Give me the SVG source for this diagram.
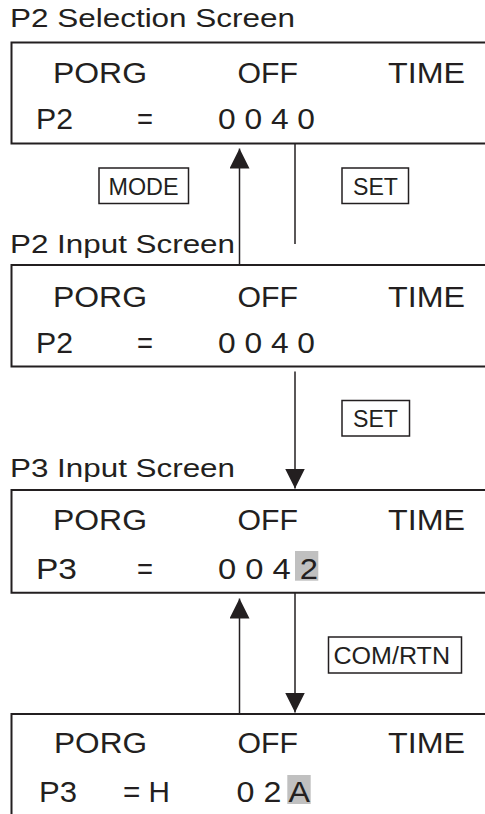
<svg xmlns="http://www.w3.org/2000/svg" width="485" height="814" viewBox="0 0 485 814">
  <style>
    .bg { fill: #ffffff; }
    .frame { fill: none; stroke: #231f20; stroke-width: 2; }
    .lbl { fill: none; stroke: #231f20; stroke-width: 1.5; }
    .conn { fill: none; stroke: #231f20; stroke-width: 1.5; }
    .title { font-family: "Liberation Sans", Arial, sans-serif; font-size: 26px; fill: #231f20; }
    .t { font-family: "Liberation Sans", Arial, sans-serif; font-size: 29px; fill: #231f20; }
    .k { font-family: "Liberation Sans", Arial, sans-serif; font-size: 23px; fill: #231f20; }
    .hl { fill: #c0c0c0; }
  </style>
  <defs>
    <marker id="arrow" markerUnits="userSpaceOnUse" markerWidth="20" markerHeight="20" viewBox="0 0 19 19" refX="19" refY="9.5" orient="auto">
      <path d="M0,0 L19,9.5 L0,19 Z" fill="#231f20"/>
    </marker>
  </defs>
  <rect class="bg" x="0" y="0" width="485" height="814"/>

  <g id="screen1">
    <text class="title" x="10" y="26.7" textLength="285" lengthAdjust="spacingAndGlyphs">P2 Selection Screen</text>
    <path class="frame" d="M487,42.5 H11.5 V143.5 H487"/>
    <text class="t" x="53" y="82.5" textLength="94" lengthAdjust="spacingAndGlyphs">PORG</text>
    <text class="t" x="237.5" y="82.5" textLength="60.5" lengthAdjust="spacingAndGlyphs">OFF</text>
    <text class="t" x="388" y="82.5" textLength="77" lengthAdjust="spacingAndGlyphs">TIME</text>
    <text class="t" x="36" y="129" textLength="37" lengthAdjust="spacingAndGlyphs">P2</text>
    <text class="t" x="137" y="129" textLength="16" lengthAdjust="spacingAndGlyphs">=</text>
    <text class="t" x="218" y="129" textLength="97" lengthAdjust="spacingAndGlyphs">0 0 4 0</text>
  </g>

  <g id="screen2">
    <text class="title" x="10" y="253.3" textLength="225" lengthAdjust="spacingAndGlyphs">P2 Input Screen</text>
    <path class="frame" d="M487,265 H11.5 V366.5 H487"/>
    <text class="t" x="53" y="306.5" textLength="94" lengthAdjust="spacingAndGlyphs">PORG</text>
    <text class="t" x="237.5" y="306.5" textLength="60.5" lengthAdjust="spacingAndGlyphs">OFF</text>
    <text class="t" x="388" y="306.5" textLength="77" lengthAdjust="spacingAndGlyphs">TIME</text>
    <text class="t" x="36" y="353" textLength="37" lengthAdjust="spacingAndGlyphs">P2</text>
    <text class="t" x="137" y="353" textLength="16" lengthAdjust="spacingAndGlyphs">=</text>
    <text class="t" x="218" y="353" textLength="97" lengthAdjust="spacingAndGlyphs">0 0 4 0</text>
  </g>

  <g id="screen3">
    <text class="title" x="10" y="476.7" textLength="225" lengthAdjust="spacingAndGlyphs">P3 Input Screen</text>
    <path class="frame" d="M487,490 H11.5 V592.7 H487"/>
    <text class="t" x="53" y="529.5" textLength="94" lengthAdjust="spacingAndGlyphs">PORG</text>
    <text class="t" x="237.5" y="529.5" textLength="60.5" lengthAdjust="spacingAndGlyphs">OFF</text>
    <text class="t" x="388" y="529.5" textLength="77" lengthAdjust="spacingAndGlyphs">TIME</text>
    <text class="t" x="36" y="578.5" textLength="41" lengthAdjust="spacingAndGlyphs">P3</text>
    <text class="t" x="137" y="578.5" textLength="16" lengthAdjust="spacingAndGlyphs">=</text>
    <rect class="hl" x="295" y="551" width="23.3" height="29.7"/>
    <text class="t" x="218" y="578.5" textLength="100" lengthAdjust="spacingAndGlyphs">0 0 4 2</text>
  </g>

  <g id="screen4">
    <path class="frame" d="M487,714 H11.5 V815"/>
    <text class="t" x="54" y="753" textLength="93" lengthAdjust="spacingAndGlyphs">PORG</text>
    <text class="t" x="237.5" y="753" textLength="60.5" lengthAdjust="spacingAndGlyphs">OFF</text>
    <text class="t" x="388" y="753" textLength="77" lengthAdjust="spacingAndGlyphs">TIME</text>
    <text class="t" x="39" y="801.5" textLength="38" lengthAdjust="spacingAndGlyphs">P3</text>
    <text class="t" x="123" y="801.5" textLength="47" lengthAdjust="spacingAndGlyphs">= H</text>
    <rect class="hl" x="287.3" y="775" width="23.4" height="29"/>
    <text class="t" x="236.5" y="801.5" textLength="73.5" lengthAdjust="spacingAndGlyphs">0 2 A</text>
  </g>

  <g id="key-mode">
    <rect class="lbl" x="99" y="168" width="89.5" height="35.5"/>
    <text class="k" x="108.5" y="195" textLength="70" lengthAdjust="spacingAndGlyphs">MODE</text>
  </g>
  <g id="key-set1">
    <rect class="lbl" x="342" y="168" width="66.5" height="35.5"/>
    <text class="k" x="353" y="194.5" textLength="45" lengthAdjust="spacingAndGlyphs">SET</text>
  </g>
  <g id="key-set2">
    <rect class="lbl" x="342" y="400.5" width="67.5" height="35.5"/>
    <text class="k" x="353" y="427" textLength="45" lengthAdjust="spacingAndGlyphs">SET</text>
  </g>
  <g id="key-comrtn">
    <rect class="lbl" x="328.5" y="637" width="133" height="36"/>
    <text class="k" x="333.5" y="663.5" textLength="116.5" lengthAdjust="spacingAndGlyphs">COM/RTN</text>
  </g>

  <g id="connectors">
    <line class="conn" x1="239.5" y1="265" x2="239.5" y2="148.5" marker-end="url(#arrow)"/>
    <line class="conn" x1="295" y1="144" x2="295" y2="244"/>
    <line class="conn" x1="295" y1="371.5" x2="295" y2="488.5" marker-end="url(#arrow)"/>
    <line class="conn" x1="239.5" y1="715" x2="239.5" y2="598.5" marker-end="url(#arrow)"/>
    <line class="conn" x1="295" y1="593" x2="295" y2="712.5" marker-end="url(#arrow)"/>
  </g>
</svg>
